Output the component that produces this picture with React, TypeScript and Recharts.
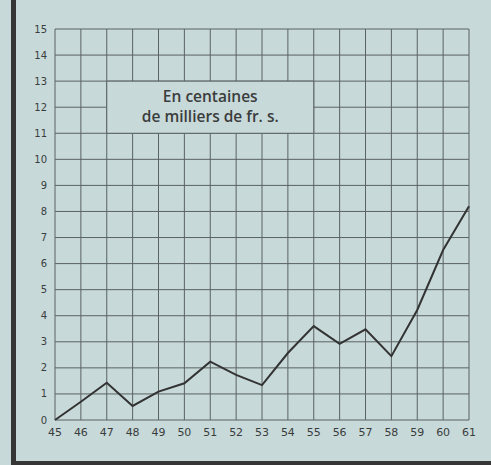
import { LineChart, Line, XAxis, YAxis, CartesianGrid, ReferenceArea } from 'recharts'

// années 1945-1961
const years = [45, 46, 47, 48, 49, 50, 51, 52, 53, 54, 55, 56, 57, 58, 59, 60, 61]
// en centaines de milliers de fr. s.
const values = [0, 0.7, 1.43, 0.54, 1.09, 1.41, 2.24, 1.73, 1.34, 2.57, 3.6, 2.92, 3.48, 2.45, 4.22, 6.52, 8.2]
const yTicks = [0, 1, 2, 3, 4, 5, 6, 7, 8, 9, 10, 11, 12, 13, 14, 15]
const boxLines = ['En centaines', 'de milliers de fr. s.']

const BG = '#c8d9d9'
const INK = '#3a3d3d'
const GRID = '#5a6262'

const data = years.map((y, i) => ({ year: y, value: values[i] }))

const BoxLabel = ({ viewBox }: any) => {
  if (!viewBox) return null
  const cx = viewBox.x + viewBox.width / 2
  return (
    <g>
      {boxLines.map((t, i) => (
        <text
          key={t}
          x={cx}
          y={viewBox.y + 21 + i * 20}
          textAnchor="middle"
          fill={INK}
          fontFamily="'Open Sans', sans-serif"
          fontWeight={600}
          fontSize={15.5}
        >
          {t}
        </text>
      ))}
    </g>
  )
}

export default function App() {
  return (
    <div style={{ position: 'fixed', left: 0, top: 0, width: 491, height: 465, background: BG, overflow: 'hidden' }}>
      {/* bordure gauche et bas */}
      <div style={{ position: 'absolute', left: 11, top: 0, width: 5, height: 465, background: '#363636' }} />
      <div style={{ position: 'absolute', left: 11, top: 461, width: 480, height: 4, background: '#363636' }} />
      <LineChart
        width={491}
        height={465}
        data={data}
        margin={{ top: 29, right: 22, left: 35, bottom: 20 }}
      >
        <CartesianGrid stroke={GRID} strokeWidth={1} />
        <XAxis
          dataKey="year"
          type="number"
          domain={[45, 61]}
          ticks={years}
          axisLine={false}
          tickLine={false}
          height={25}
          interval={0}
          tick={{ fill: INK, fontSize: 11, fontFamily: 'DejaVu Sans, sans-serif' }}
        />
        <YAxis
          type="number"
          domain={[0, 15]}
          ticks={yTicks}
          axisLine={false}
          tickLine={false}
          width={20}
          interval={0}
          tick={{ fill: INK, fontSize: 10, fontFamily: 'DejaVu Sans, sans-serif' }}
        />
        <ReferenceArea
          x1={47}
          x2={55}
          y1={11}
          y2={13}
          fill={BG}
          fillOpacity={1}
          stroke={GRID}
          strokeWidth={1}
          label={<BoxLabel />}
        />
        <Line
          type="linear"
          dataKey="value"
          stroke="#333"
          strokeWidth={2}
          dot={false}
          isAnimationActive={false}
        />
      </LineChart>
    </div>
  )
}
